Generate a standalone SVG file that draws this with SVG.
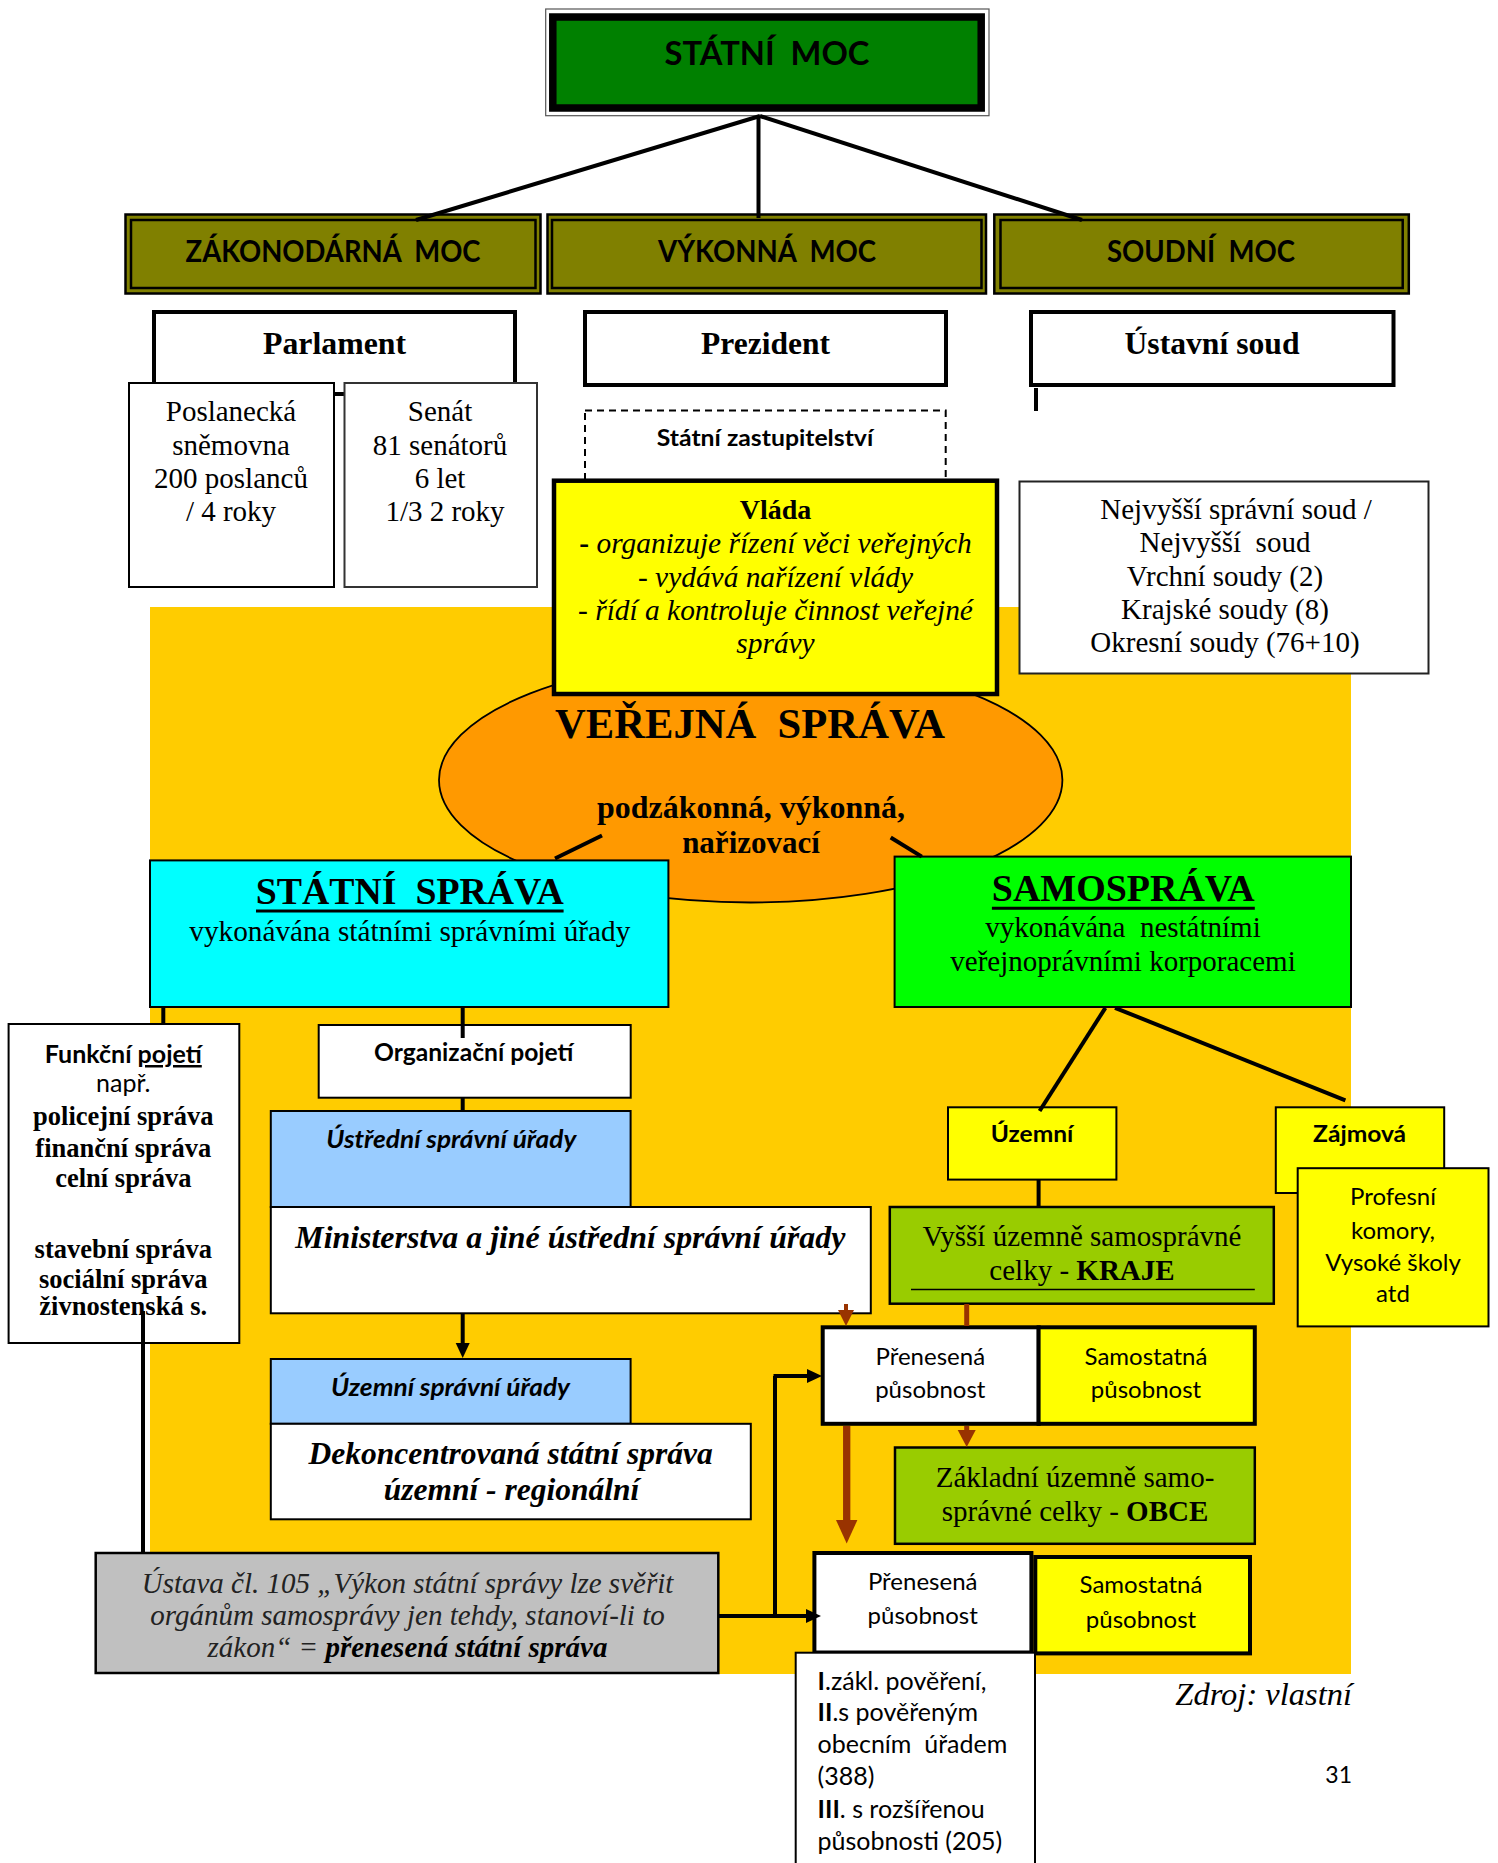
<svg xmlns="http://www.w3.org/2000/svg" width="1498" height="1863" viewBox="0 0 1498 1863">
<defs>
<style>
.sans{font-family:Lato,"Open Sans","Liberation Sans",sans-serif;fill:#000}
.serif{font-family:"Liberation Serif","Times New Roman",serif;fill:#000}
.b{font-weight:bold}
.i{font-style:italic}
.m{text-anchor:middle}
.box{stroke:#000;stroke-width:2}
.thick{stroke:#000;stroke-width:4}
.ln{stroke:#000;stroke-width:4;fill:none}
.br{stroke:#993300;fill:none}
</style>
</defs>
<rect x="0" y="0" width="1498" height="1863" fill="#fff"/>
<rect id="background" x="150" y="607" width="1201" height="1067" fill="#FFCC00"/>

<g id="statni-moc">
<rect x="545.7" y="9" width="443.3" height="106.7" fill="#fff" stroke="#555" stroke-width="1.2"/>
<rect x="552.8" y="17" width="428.4" height="91" fill="#008000" stroke="#000" stroke-width="7.5"/>
<text xml:space="preserve" class="sans b m" x="767" y="65" font-size="32" textLength="205" lengthAdjust="spacingAndGlyphs">STÁTNÍ  MOC</text>
</g>

<g id="zakonodarna">
<rect x="125.5" y="214.5" width="415" height="79" fill="#808000" stroke="#000" stroke-width="2.5"/>
<rect x="131" y="220" width="404.5" height="68" fill="#808000" stroke="#000" stroke-width="2.5"/>
<text xml:space="preserve" class="sans b m" x="333" y="262" font-size="30" textLength="295" lengthAdjust="spacingAndGlyphs">ZÁKONODÁRNÁ  MOC</text>
</g>
<g id="vykonna">
<rect x="547.5" y="214.5" width="438.5" height="79" fill="#808000" stroke="#000" stroke-width="2.5"/>
<rect x="552" y="220" width="429.5" height="68" fill="#808000" stroke="#000" stroke-width="2.5"/>
<text xml:space="preserve" class="sans b m" x="767" y="262" font-size="30" textLength="218" lengthAdjust="spacingAndGlyphs">VÝKONNÁ  MOC</text>
</g>
<g id="soudni">
<rect x="994.3" y="214.5" width="414.5" height="79" fill="#808000" stroke="#000" stroke-width="2.5"/>
<rect x="1000.5" y="220" width="402.2" height="68" fill="#808000" stroke="#000" stroke-width="2.5"/>
<text xml:space="preserve" class="sans b m" x="1201" y="262" font-size="30" textLength="188" lengthAdjust="spacingAndGlyphs">SOUDNÍ  MOC</text>
</g>

<g id="parlament">
<rect x="154" y="312" width="361" height="82" fill="#fff" class="thick"/>
<text class="serif b m" x="334.5" y="354" font-size="32" textLength="143" lengthAdjust="spacingAndGlyphs">Parlament</text>
</g>
<g id="poslanecka">
<rect x="129" y="383" width="205" height="204" fill="#fff" class="box"/>
<text class="serif m" font-size="29"><tspan x="231" y="421">Poslanecká</tspan><tspan x="231" y="454.5">sněmovna</tspan><tspan x="231" y="488">200 poslanců</tspan><tspan x="231" y="521">/ 4 roky</tspan></text>
</g>
<g id="senat">
<rect x="344.5" y="383" width="192.5" height="204" fill="#fff" stroke="#333" stroke-width="2"/>
<text class="serif m" font-size="29"><tspan x="440" y="421">Senát</tspan><tspan x="440" y="454.5">81 senátorů</tspan><tspan x="440" y="488">6 let</tspan><tspan x="445" y="521">1/3 2 roky</tspan></text>
</g>
<g id="prezident">
<rect x="585" y="312" width="361" height="73" fill="#fff" class="thick"/>
<text class="serif b m" x="765.5" y="354" font-size="32" textLength="129" lengthAdjust="spacingAndGlyphs">Prezident</text>
</g>
<g id="ustavni-soud">
<rect x="1031" y="312" width="362.5" height="73" fill="#fff" class="thick"/>
<text class="serif b m" x="1212" y="354" font-size="32" textLength="175" lengthAdjust="spacingAndGlyphs">Ústavní soud</text>
</g>
<g id="statni-zastupitelstvi">
<rect x="585" y="410.6" width="360.7" height="70" fill="#fff" stroke="#000" stroke-width="2" stroke-dasharray="7,5"/>
<text class="sans b m" x="765" y="446" font-size="22" textLength="216.5" lengthAdjust="spacingAndGlyphs">Státní zastupitelství</text>
</g>

<g id="verejna-sprava">
<ellipse cx="750.7" cy="780" rx="311.7" ry="122.5" fill="#FF9900" stroke="#000" stroke-width="1.8"/>
<text xml:space="preserve" class="serif b m" x="750" y="738" font-size="42" textLength="390" lengthAdjust="spacingAndGlyphs">VEŘEJNÁ  SPRÁVA</text>
<text class="serif b m" x="751" y="818" font-size="31" textLength="308" lengthAdjust="spacingAndGlyphs">podzákonná, výkonná,</text>
<text class="serif b m" x="751" y="853" font-size="31">nařizovací</text>
</g>

<g id="vlada">
<rect x="554" y="480.7" width="443" height="213.3" fill="#FFFF00" stroke="#000" stroke-width="4.5"/>
<text class="serif b m" x="775.5" y="519.3" font-size="28">Vláda</text>
<text class="serif i m" font-size="29.4"><tspan x="775.5" y="552.7"><tspan font-weight="bold" font-style="normal">-</tspan> organizuje řízení věci veřejných</tspan><tspan x="775.5" y="586.7">- vydává nařízení vlády</tspan><tspan x="775.5" y="620">- řídí a kontroluje činnost veřejné</tspan><tspan x="775.5" y="653.3">správy</tspan></text>
</g>

<g id="soudy">
<rect x="1019.5" y="481.5" width="409" height="192" fill="#fff" stroke="#222" stroke-width="2"/>
<text xml:space="preserve" class="serif m" font-size="29"><tspan x="1236" y="519">Nejvyšší správní soud /</tspan><tspan x="1225" y="552">Nejvyšší  soud</tspan><tspan x="1225" y="586">Vrchní soudy (2)</tspan><tspan x="1225" y="619">Krajské soudy (8)</tspan><tspan x="1225" y="652">Okresní soudy (76+10)</tspan></text>
</g>

<g id="statni-sprava">
<rect x="150" y="860.4" width="518.4" height="146.6" fill="#00FFFF" class="box"/>
<text xml:space="preserve" class="serif b m" x="409.8" y="904.4" font-size="37" textLength="308" lengthAdjust="spacingAndGlyphs">STÁTNÍ  SPRÁVA</text>
<line x1="256" y1="911" x2="563.6" y2="911" stroke="#000" stroke-width="3"/>
<text class="serif m" x="409.8" y="941" font-size="29" textLength="441" lengthAdjust="spacingAndGlyphs">vykonávána státními správními úřady</text>
</g>

<g id="samosprava">
<rect x="894.6" y="856.6" width="456.4" height="150.4" fill="#00FF00" class="box"/>
<text class="serif b m" x="1123.3" y="900.6" font-size="37" textLength="263" lengthAdjust="spacingAndGlyphs">SAMOSPRÁVA</text>
<line x1="991.9" y1="908.3" x2="1254.8" y2="908.3" stroke="#000" stroke-width="3"/>
<text xml:space="preserve" class="serif m" font-size="29"><tspan x="1123" y="937">vykonávána  nestátními</tspan><tspan x="1123" y="971.4">veřejnoprávními korporacemi</tspan></text>
</g>

<g id="funkcni-pojeti">
<rect x="8.6" y="1024" width="230.7" height="319" fill="#fff" class="box"/>
<text class="sans b m" x="123.3" y="1063" font-size="25">Funkční <tspan text-decoration="underline">pojetí</tspan></text>
<text class="sans m" x="123.3" y="1091.7" font-size="25">např.</text>
<text class="serif b m" font-size="26.5"><tspan x="123.3" y="1125">policejní správa</tspan><tspan x="123.3" y="1156.7">finanční správa</tspan><tspan x="123.3" y="1186.7">celní správa</tspan><tspan x="123.3" y="1258.3">stavební správa</tspan><tspan x="123.3" y="1288.3">sociální správa</tspan><tspan x="123.3" y="1315">živnostenská s.</tspan></text>
</g>

<g id="organizacni-pojeti">
<rect x="318.7" y="1025" width="312" height="72.7" fill="#fff" class="box"/>
<text class="sans b m" x="473.7" y="1061" font-size="24" textLength="199.5" lengthAdjust="spacingAndGlyphs">Organizační pojetí</text>
</g>
<g id="ustredni-urady">
<rect x="270.8" y="1111" width="359.8" height="96" fill="#99CCFF" class="box"/>
<text class="sans b i m" x="451.3" y="1147.5" font-size="24" textLength="250" lengthAdjust="spacingAndGlyphs">Ústřední správní úřady</text>
</g>
<g id="ministerstva">
<rect x="270.8" y="1207" width="600" height="106.3" fill="#fff" class="box"/>
<text class="serif b i m" x="570.3" y="1247.8" font-size="31.5" textLength="550" lengthAdjust="spacingAndGlyphs">Ministerstva a jiné ústřední správní úřady</text>
</g>
<g id="uzemni-urady">
<rect x="270.8" y="1359" width="359.8" height="64.8" fill="#99CCFF" class="box"/>
<text class="sans b i m" x="450.5" y="1395.6" font-size="24" textLength="239" lengthAdjust="spacingAndGlyphs">Územní správní úřady</text>
</g>
<g id="dekoncentrovana">
<rect x="270.8" y="1423.8" width="480" height="95.5" fill="#fff" class="box"/>
<text class="serif b i m" font-size="31.5"><tspan x="510.7" y="1463.8">Dekoncentrovaná státní správa</tspan><tspan x="511.5" y="1500">územní - regionální</tspan></text>
</g>
<g id="ustava">
<rect x="95.7" y="1553" width="622.6" height="120" fill="#C0C0C0" stroke="#000" stroke-width="2.5"/>
<text class="serif i m" font-size="29" style="fill:#222"><tspan x="407.5" y="1593">Ústava čl. 105 „Výkon státní správy lze svěřit</tspan><tspan x="407.5" y="1625">orgánům samosprávy jen tehdy, stanoví-li to</tspan><tspan x="407.5" y="1657">zákon“ = <tspan font-weight="bold" style="fill:#000">přenesená státní správa</tspan></tspan></text>
</g>

<g id="uzemni">
<rect x="948" y="1107.3" width="168.4" height="72.3" fill="#FFFF00" class="box"/>
<text class="sans b m" x="1032" y="1141.7" font-size="22" textLength="82.6" lengthAdjust="spacingAndGlyphs">Územní</text>
</g>
<g id="zajmova">
<rect x="1275.8" y="1107.3" width="168.4" height="85.7" fill="#FFFF00" class="box"/>
<text class="sans b m" x="1359.6" y="1141.7" font-size="22" textLength="93" lengthAdjust="spacingAndGlyphs">Zájmová</text>
</g>
<g id="profesni">
<rect x="1297.7" y="1168.2" width="190.8" height="158.2" fill="#FFFF00" class="box"/>
<text class="sans m" font-size="24"><tspan x="1393" y="1204.6">Profesní</tspan><tspan x="1393" y="1238.7">komory,</tspan><tspan x="1393" y="1270.5">Vysoké školy</tspan><tspan x="1393" y="1302.3">atd</tspan></text>
</g>
<g id="kraje">
<rect x="889.8" y="1207" width="384" height="96.7" fill="#99CC00" stroke="#000" stroke-width="2.5"/>
<text class="serif m" font-size="29"><tspan x="1082" y="1245.5">Vyšší územně samosprávné</tspan><tspan x="1082" y="1279.6">celky - <tspan font-weight="bold">KRAJE</tspan></tspan></text>
<line x1="911" y1="1289.6" x2="1254.8" y2="1289.6" stroke="#000" stroke-width="1.5"/>
</g>
<g id="prenesena-kraje">
<rect x="822.7" y="1327.3" width="216" height="96.5" fill="#fff" class="thick"/>
<text class="sans m" font-size="24"><tspan x="930.3" y="1364.6">Přenesená</tspan><tspan x="930.3" y="1397.8">působnost</tspan></text>
</g>
<g id="samostatna-kraje">
<rect x="1038.6" y="1327.3" width="216.2" height="96.5" fill="#FFFF00" class="thick"/>
<text class="sans m" font-size="24"><tspan x="1146" y="1364.6">Samostatná</tspan><tspan x="1146" y="1397.8">působnost</tspan></text>
</g>
<g id="obce">
<rect x="895" y="1447.5" width="359.8" height="96.3" fill="#99CC00" stroke="#000" stroke-width="2.5"/>
<text class="serif m" font-size="29"><tspan x="1075" y="1486.5">Základní územně samo-</tspan><tspan x="1075" y="1520.6">správné celky - <tspan font-weight="bold">OBCE</tspan></tspan></text>
</g>
<g id="prenesena-obce">
<rect x="814.4" y="1553" width="217" height="99.5" fill="#fff" class="thick"/>
<text class="sans m" font-size="24"><tspan x="922.7" y="1590">Přenesená</tspan><tspan x="922.7" y="1623.8">působnost</tspan></text>
</g>
<g id="samostatna-obce">
<rect x="1035.3" y="1557" width="214.7" height="96.4" fill="#FFFF00" class="thick"/>
<text class="sans m" font-size="24"><tspan x="1141" y="1593.4">Samostatná</tspan><tspan x="1141" y="1627.5">působnost</tspan></text>
</g>
<g id="typy-obci">
<rect x="795.7" y="1652.7" width="239.3" height="225" fill="#fff" class="box"/>
<text xml:space="preserve" class="sans" font-size="25"><tspan x="817.6" y="1690"><tspan font-weight="bold">I</tspan>.zákl. pověření,</tspan><tspan x="817.6" y="1721"><tspan font-weight="bold">II</tspan>.s pověřeným</tspan><tspan x="817.6" y="1753">obecním  úřadem</tspan><tspan x="817.6" y="1785">(388)</tspan><tspan x="817.6" y="1818"><tspan font-weight="bold">III</tspan>. s rozšířenou</tspan><tspan x="817.6" y="1850">působnosti (205)</tspan></text>
</g>

<g id="connectors">
<line class="ln" x1="760" y1="116" x2="416" y2="220" stroke-width="5"/>
<line class="ln" x1="758.5" y1="116" x2="758.5" y2="218" stroke-width="5"/>
<line class="ln" x1="760" y1="116" x2="1082" y2="220" stroke-width="5"/>
<line class="ln" x1="1036" y1="388" x2="1036" y2="411" stroke-width="2"/>
<line class="ln" x1="602" y1="835.5" x2="555" y2="858.5" stroke-width="5"/>
<line class="ln" x1="890.7" y1="837.5" x2="921.8" y2="856.6" stroke-width="5"/>
<line class="ln" x1="163.3" y1="1007" x2="163.3" y2="1024"/>
<line class="ln" x1="462.7" y1="1007" x2="462.7" y2="1038"/>
<line class="ln" x1="462.7" y1="1097" x2="462.7" y2="1111"/>
<line class="ln" x1="462.7" y1="1313" x2="462.7" y2="1345" stroke-width="3"/>
<polygon points="455.7,1343 469.7,1343 462.7,1358" fill="#000"/>
<line class="ln" x1="143" y1="1311" x2="143" y2="1553"/>
<line class="ln" x1="719" y1="1616" x2="807" y2="1616" stroke-width="3"/>
<polygon points="806,1609 806,1623 821,1616" fill="#000"/>
<line class="ln" x1="775" y1="1376" x2="775" y2="1617.5" stroke-width="3"/>
<line class="ln" x1="773.5" y1="1376" x2="808" y2="1376" stroke-width="3"/>
<polygon points="807,1369 807,1383 822,1376" fill="#000"/>
<line class="ln" x1="1105.4" y1="1007.8" x2="1039.6" y2="1111"/>
<line class="ln" x1="1115" y1="1007.8" x2="1345.4" y2="1100.4"/>
<line class="ln" x1="1038.6" y1="1179.6" x2="1038.6" y2="1207" stroke-width="3"/>
<line class="br" x1="846" y1="1304" x2="846" y2="1312" stroke-width="4"/>
<polygon points="838,1310 854,1310 846,1326" fill="#993300"/>
<line class="br" x1="966.7" y1="1304" x2="966.7" y2="1326" stroke-width="5"/>
<line class="br" x1="966.7" y1="1426" x2="966.7" y2="1432" stroke-width="5"/>
<polygon points="957.7,1430 975.7,1430 966.7,1447" fill="#993300"/>
<line class="br" x1="846.7" y1="1426" x2="846.7" y2="1522" stroke-width="7.3"/>
<polygon points="836,1520 857.4,1520 846.7,1543.5" fill="#993300"/>
</g>

<text class="serif i" x="1352" y="1705" font-size="32.5" text-anchor="end">Zdroj: vlastní</text>
<text class="sans" x="1352" y="1783" font-size="23" text-anchor="end">31</text>
</svg>
